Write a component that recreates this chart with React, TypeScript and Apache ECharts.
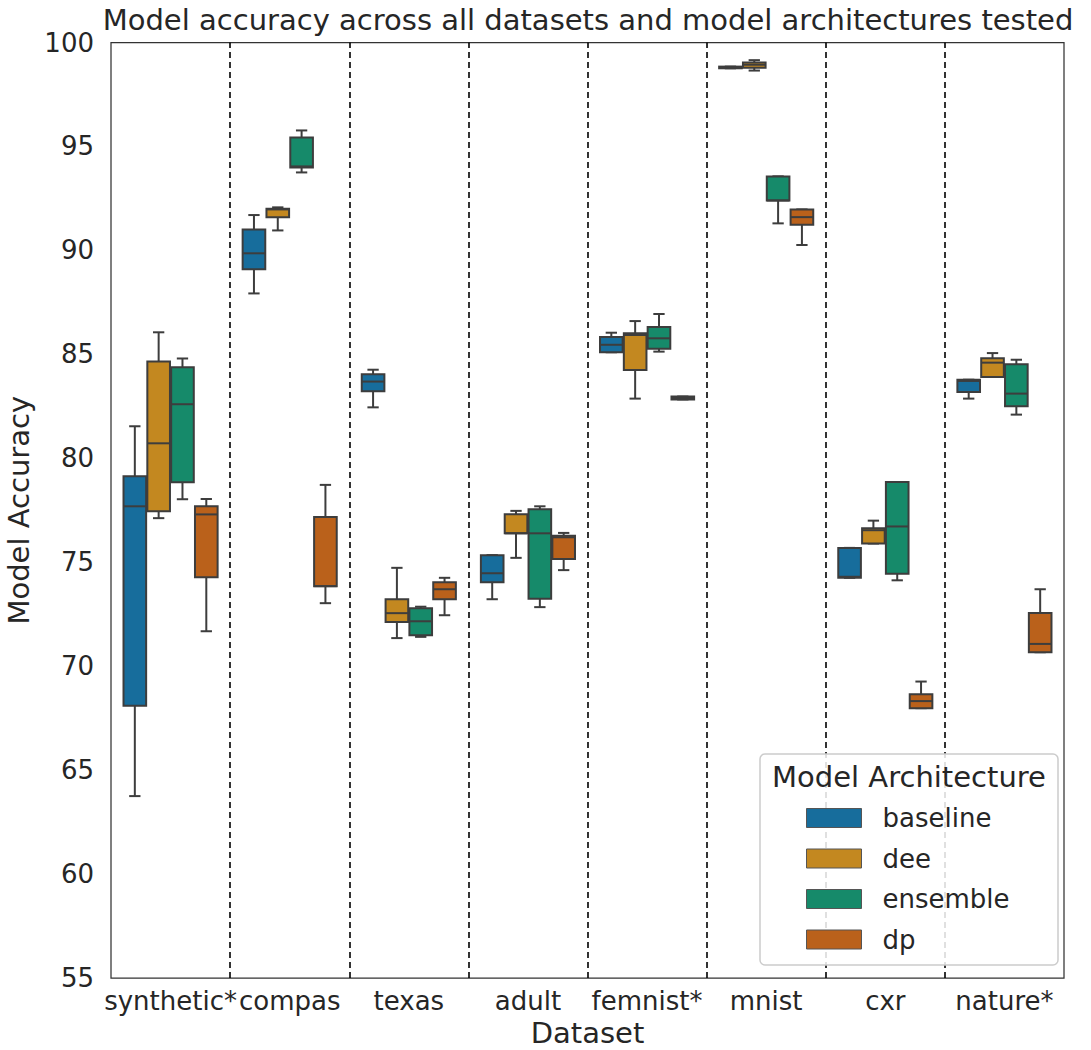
import React, { useEffect, useRef } from "react";
import * as echarts from "echarts";

const categories = ["synthetic*", "compas", "texas", "adult", "femnist*", "mnist", "cxr", "nature*"];
const hues = ["baseline", "dee", "ensemble", "dp"];
const hueColors = ["#176d9c", "#c38820", "#168a6a", "#ba611b"];

// [min, q1, median, q3, max] per category
const baselineStats = [
  [63.75, 68.1, 77.69, 79.13, 81.54],
  [87.93, 89.09, 89.86, 91.0, 91.7],
  [82.45, 83.22, 83.69, 84.04, 84.26],
  [73.22, 74.04, 74.47, 75.34, 75.34],
  [85.1, 85.1, 85.46, 85.83, 86.04],
  [98.76, 98.76, 98.8, 98.84, 98.84],
  [74.25, 74.25, 74.3, 75.69, 75.69],
  [82.87, 83.19, 83.72, 83.78, 83.78],
];
const deeStats = [
  [77.12, 77.45, 80.72, 84.66, 86.06],
  [90.96, 91.59, 91.97, 92.0, 92.07],
  [71.35, 72.12, 72.55, 73.22, 74.73],
  [75.21, 76.39, 76.39, 77.31, 77.47],
  [82.87, 84.25, 85.93, 86.02, 86.6],
  [98.65, 98.78, 98.93, 99.04, 99.15],
  [75.9, 75.9, 76.54, 76.63, 77.0],
  [83.91, 83.91, 84.6, 84.81, 85.06],
];
const ensembleStats = [
  [78.03, 78.85, 82.6, 84.38, 84.8],
  [93.75, 93.99, 94.04, 95.43, 95.77],
  [71.41, 71.49, 72.16, 72.79, 72.86],
  [72.84, 73.24, 76.39, 77.55, 77.69],
  [85.13, 85.27, 85.77, 86.31, 86.94],
  [91.3, 92.4, 92.4, 93.56, 93.56],
  [74.13, 74.45, 76.72, 78.86, 78.86],
  [82.1, 82.5, 83.11, 84.52, 84.74],
];
const dpStats = [
  [71.68, 74.28, 77.3, 77.69, 78.04],
  [73.03, 73.85, 73.85, 77.18, 78.72],
  [72.45, 73.22, 73.7, 74.04, 74.25],
  [74.62, 75.16, 76.2, 76.27, 76.41],
  [82.83, 82.83, 82.9, 82.97, 82.97],
  [90.26, 91.23, 91.6, 91.97, 91.97],
  [67.98, 67.98, 68.32, 68.65, 69.26],
  [70.67, 70.67, 71.07, 72.56, 73.7],
];
const allStats = [baselineStats, deeStats, ensembleStats, dpStats];

const yTicksMin = 55;
const yTicksMax = 100;
const yTickStep = 5;

const FONT = "DejaVu Sans";
const TEXT = "#262626";
const EDGE = "#3d3d3d";
const TICK_FS = 26;
const LABEL_FS = 29;

function makeRenderItem(hueIdx: number) {
  return (params: any, api: any) => {
    const cat = api.value(0);
    const vMin = api.value(1);
    const q1 = api.value(2);
    const med = api.value(3);
    const q3 = api.value(4);
    const vMax = api.value(5);
    const band = api.size([1, 0])[0];
    const slot = (band * 0.8) / hues.length;
    const cx = api.coord([cat, med])[0] + (hueIdx - (hues.length - 1) / 2) * slot;
    const bw = slot * 0.95;
    const capW = bw / 2;
    const yMin = api.coord([cat, vMin])[1];
    const yQ1 = api.coord([cat, q1])[1];
    const yMed = api.coord([cat, med])[1];
    const yQ3 = api.coord([cat, q3])[1];
    const yMax = api.coord([cat, vMax])[1];
    const ls = { stroke: EDGE, lineWidth: 2 };
    return {
      type: "group",
      children: [
        { type: "line", shape: { x1: cx, y1: yQ1, x2: cx, y2: yMin }, style: ls },
        { type: "line", shape: { x1: cx, y1: yQ3, x2: cx, y2: yMax }, style: ls },
        { type: "line", shape: { x1: cx - capW / 2, y1: yMin, x2: cx + capW / 2, y2: yMin }, style: ls },
        { type: "line", shape: { x1: cx - capW / 2, y1: yMax, x2: cx + capW / 2, y2: yMax }, style: ls },
        {
          type: "rect",
          shape: { x: cx - bw / 2, y: yQ3, width: bw, height: Math.max(yQ1 - yQ3, 0.5) },
          style: { fill: hueColors[hueIdx], stroke: EDGE, lineWidth: 2 },
        },
        { type: "line", shape: { x1: cx - bw / 2, y1: yMed, x2: cx + bw / 2, y2: yMed }, style: ls },
      ],
    };
  };
}

export default function App() {
  const ref = useRef<HTMLDivElement>(null);
  useEffect(() => {
    if (!ref.current) return;
    const chart = echarts.init(ref.current, undefined, { renderer: "svg" });
    const boundaries = categories.slice(1).map((_, i) => i + 1);
    const boxSeries = hues.map((h, hi) => ({
      name: h,
      type: "custom",
      xAxisIndex: 0,
      yAxisIndex: 0,
      renderItem: makeRenderItem(hi),
      itemStyle: { color: hueColors[hi], borderColor: "#555", borderWidth: 1 },
      encode: { x: 0, y: [1, 2, 3, 4, 5] },
      data: allStats[hi].map((s, ci) => [ci, ...s]),
      z: 3,
    }));
    chart.setOption({
      animation: false,
      backgroundColor: "#ffffff",
      textStyle: { fontFamily: FONT, color: TEXT },
      title: {
        text: "Model accuracy across all datasets and model architectures tested",
        left: 588,
        top: 5,
        padding: 0,
        textAlign: "center",
        textStyle: { fontFamily: FONT, fontSize: LABEL_FS, fontWeight: "normal", color: TEXT },
      },
      grid: {
        left: 111,
        right: 27,
        top: 42.5,
        bottom: 72,
        show: true,
        borderColor: "#333333",
        borderWidth: 1.25,
        backgroundColor: "transparent",
        containLabel: false,
        outerBoundsMode: "none",
      },
      xAxis: [
        {
          type: "category",
          data: categories,
          boundaryGap: true,
          name: "Dataset",
          nameLocation: "middle",
          nameGap: 40,
          nameTextStyle: { fontFamily: FONT, fontSize: LABEL_FS, color: TEXT, lineHeight: 26 },
          axisLine: { show: false },
          axisTick: { show: false },
          splitLine: { show: false },
          axisLabel: { fontFamily: FONT, fontSize: TICK_FS, color: TEXT, margin: 10, interval: 0 },
        },
        {
          type: "value",
          min: 0,
          max: categories.length,
          show: false,
          splitLine: { show: false },
        },
      ],
      yAxis: {
        type: "value",
        min: yTicksMin,
        max: yTicksMax,
        interval: yTickStep,
        name: "Model Accuracy",
        nameLocation: "middle",
        nameRotate: 90,
        nameGap: 76,
        nameTextStyle: { fontFamily: FONT, fontSize: LABEL_FS, color: TEXT },
        axisLine: { show: false },
        axisTick: { show: false },
        splitLine: { show: false },
        axisLabel: { fontFamily: FONT, fontSize: TICK_FS, color: TEXT, margin: 17 },
      },
      legend: {
        data: hues,
        orient: "vertical",
        left: 806,
        top: 805,
        padding: 0,
        itemWidth: 55,
        itemHeight: 19,
        itemGap: 14.5,
        icon: "rect",
        z: 20,
        selectedMode: false,
        itemStyle: { borderColor: "#555", borderWidth: 1 },
        textStyle: { fontFamily: FONT, fontSize: TICK_FS, color: TEXT, padding: [0, 0, 0, 16] },
      },
      graphic: [
        {
          type: "rect",
          z: 15,
          shape: { x: 760, y: 754, width: 298, height: 211, r: 5 },
          style: { fill: "rgba(255,255,255,0.85)", stroke: "#cccccc", lineWidth: 1.5 },
        },
        {
          type: "text",
          z: 16,
          x: 909,
          y: 777,
          style: {
            text: "Model Architecture",
            fontFamily: FONT,
            fontSize: LABEL_FS,
            fill: TEXT,
            align: "center",
            verticalAlign: "middle",
          },
        },
      ],
      series: [
        {
          name: "dividers",
          type: "line",
          xAxisIndex: 1,
          yAxisIndex: 0,
          data: [],
          z: 2,
          markLine: {
            silent: true,
            symbol: "none",
            label: { show: false },
            lineStyle: { color: "#000000", width: 1.6, type: [6, 4] },
            data: boundaries.map((b) => ({ xAxis: b })),
          },
        },
        ...boxSeries,
      ],
    });
    return () => chart.dispose();
  }, []);
  return (
    <div
      ref={ref}
      style={{ position: "fixed", left: 0, top: 0, width: 1091, height: 1050 }}
    />
  );
}
